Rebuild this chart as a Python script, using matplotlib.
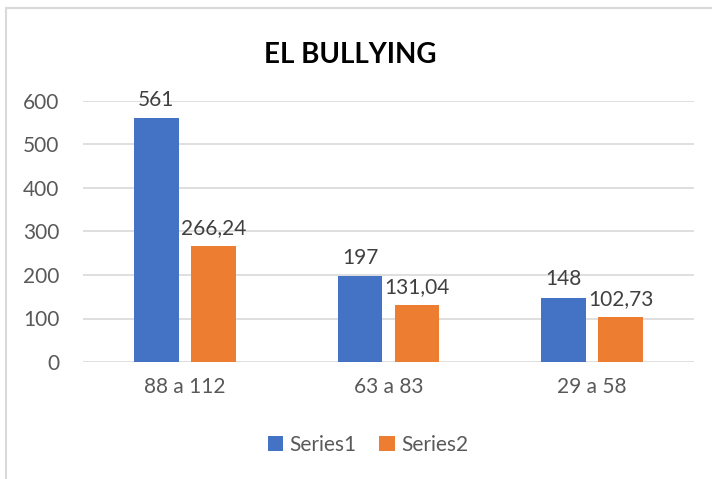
import matplotlib.pyplot as plt
import numpy as np
from matplotlib.patches import Rectangle

plt.rcParams['font.family'] = ['Lato', 'DejaVu Sans']

categories = ['88 a 112', '63 a 83', '29 a 58']
series1 = [561, 197, 148]
series2 = [266.24, 131.04, 102.73]
series_names = ['Series1', 'Series2']
colors = ['#4472C4', '#ED7D31']
text_col = '#595959'


def fmt(v):
    if float(v).is_integer():
        return str(int(v))
    return ('%.2f' % v).replace('.', ',')


fig = plt.figure(figsize=(7.12, 4.79), dpi=100)
ax = fig.add_axes([83 / 712, 1 - 362 / 479, 611 / 712, (362 - 101) / 479])

x = np.arange(len(categories))
w = 0.22
b1 = ax.bar(x - 0.14, series1, w, color=colors[0], label=series_names[0], zorder=3)
b2 = ax.bar(x + 0.14, series2, w, color=colors[1], label=series_names[1], zorder=3)

for bars, vals in [(b1, series1), (b2, series2)]:
    for r, v in zip(bars, vals):
        ax.annotate(fmt(v), (r.get_x() + r.get_width() / 2, v), xytext=(0, 6),
                    textcoords='offset points', ha='center', va='bottom',
                    fontsize=15, color='#404040')

ax.set_xlim(-0.5, 2.5)
ax.set_ylim(0, 600)
ax.set_yticks(range(0, 700, 100))
ax.set_xticks(x)
ax.set_xticklabels(categories)
ax.yaxis.grid(True, color='#D9D9D9', linewidth=1.2, zorder=0)
for s in ax.spines.values():
    s.set_visible(False)
ax.tick_params(length=0, labelsize=15, labelcolor=text_col)
ax.tick_params(axis='y', pad=17)
ax.tick_params(axis='x', pad=11)

fig.text(350 / 712, 1 - 55 / 479, 'EL BULLYING', ha='center', va='center',
         fontsize=20, fontweight='bold', color='black')

leg = fig.legend(loc='center', bbox_to_anchor=(368 / 712, 1 - 445 / 479), ncol=2,
                 frameon=False, fontsize=15, handlelength=0.75, handleheight=0.75,
                 handletextpad=0.3, columnspacing=1.1)
for t in leg.get_texts():
    t.set_color(text_col)

# chart frame (left and top edges visible)
fig.add_artist(Rectangle((6 / 712, -0.1), 1.1, 1 - 8 / 479 + 0.1,
                         transform=fig.transFigure, fill=False,
                         edgecolor='#D9D9D9', linewidth=1.5))

fig.savefig('out.png', dpi=100)
